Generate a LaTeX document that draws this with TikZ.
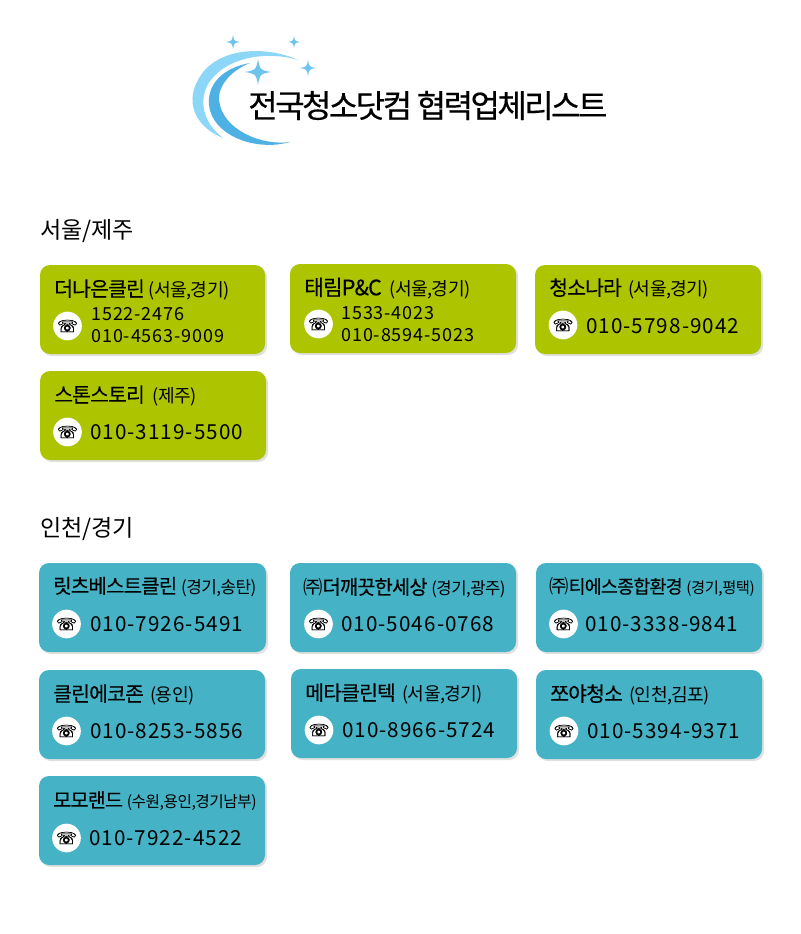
\documentclass[tikz,border=0pt]{standalone}
\usepackage{fontspec}
\setmainfont{Noto Sans CJK KR}
\newfontfamily\tightfont[LetterSpace=-4,FakeBold=0.25]{Noto Sans CJK KR}
\newfontfamily\subfont[LetterSpace=-3]{Noto Sans CJK KR}
\newfontfamily\titlefont[LetterSpace=-8,FakeBold=0.4]{Noto Sans CJK KR}
\newfontfamily\numfont[LetterSpace=5]{Noto Sans CJK KR}
\newfontfamily\iconfont[FakeBold=1.5]{DejaVu Sans}
\usetikzlibrary{positioning}
\definecolor{cardgreen}{HTML}{ACC500}
\definecolor{cardblue}{HTML}{45B2C5}
\definecolor{lightarc}{HTML}{8CD6F7}
\definecolor{darkarc}{HTML}{4FB0E3}
\definecolor{starblue}{HTML}{6CC4EE}
\tikzset{
  greencard/.style={fill=cardgreen,draw=none,rounded corners=7.5pt},
  bluecard/.style={fill=cardblue,draw=none,rounded corners=7.5pt},
  cardshadow/.style={fill=black!12,draw=none,rounded corners=7.5pt},
  phonedot/.style={circle,fill=white,inner sep=0pt,minimum size=21.5pt},
  phoneicon/.style={font=\iconfont\fontsize{12.5}{13}\selectfont,text=black,inner sep=0pt},
  cardname/.style={anchor=base west,inner sep=0pt,yshift=-1pt,font=\tightfont\fontsize{15.3}{17}\selectfont,text=black},
  phonenum/.style={anchor=west,inner sep=0pt,font=\numfont\fontsize{15.5}{17}\selectfont,text=black},
  phonesmall/.style={anchor=west,inner sep=0pt,align=left,font=\numfont\fontsize{13.5}{16.5}\selectfont,text=black},
  sectionlabel/.style={anchor=west,inner sep=0pt,font=\fontsize{17.3}{19}\selectfont,text=black},
}
\newcommand{\subarea}[2][13.6]{{\subfont\fontsize{#1}{15}\selectfont #2}}
\newcommand{\namesize}[1]{\fontsize{#1}{17}\selectfont}
\newcommand{\sparkle}[3]{\fill[starblue] (#1-#3,#2) .. controls (#1-0.15*#3,#2-0.15*#3) .. (#1,#2-#3) .. controls (#1+0.15*#3,#2-0.15*#3) .. (#1+#3,#2) .. controls (#1+0.15*#3,#2+0.15*#3) .. (#1,#2+#3) .. controls (#1-0.15*#3,#2+0.15*#3) .. cycle;}

\begin{document}
\begin{tikzpicture}[x=0.75pt,y=-0.75pt]
\useasboundingbox (0,0) rectangle (800,934);
\fill[white] (0,0) rectangle (800,934);

% logo
\fill[lightarc] (298,60) .. controls (265,45) and (215,47) .. (198,80) .. controls (184,105) and (198,128) .. (223,138) .. controls (206,125) and (198,105) .. (207,86) .. controls (222,58) and (265,50) .. cycle;
\fill[darkarc] (250,63) .. controls (222,68) and (207,85) .. (209,105) .. controls (212,135) and (255,152) .. (290,142) .. controls (262,146) and (222,130) .. (219,100) .. controls (218,85) and (232,70) .. cycle;
\sparkle{258}{72}{13}
\sparkle{233}{42}{7}
\sparkle{294}{42}{6}
\sparkle{308}{68}{8}
\node[anchor=west,inner sep=0pt,font=\titlefont\fontsize{24}{28}\selectfont,text=black] (title) at (248,105.5) {전국청소닷컴 협력업체리스트};

\node[sectionlabel] (seoul) at (40,231) {서울/제주};
\node[sectionlabel] (incheon) at (40,529) {인천/경기};

% green cards
\draw[cardshadow] (42,267) rectangle (267,356);
\draw[greencard] (40,265) rectangle (265,354);
\node[cardname] (name1) at (54,295) {더나은클린 \subarea{(서울,경기)}};
\node[phonedot] (dot1) at (67.5,326) {};
\node[phoneicon] (icon1) at (dot1) {☏};
\node[phonesmall] (num1) at (91,325) {1522-2476\\010-4563-9009};

\draw[cardshadow] (292,266) rectangle (518,355);
\draw[greencard] (290,264) rectangle (516,353);
\node[cardname] (name2) at (304,294) {{\namesize{16}태림P\&C} \hspace{3pt}\subarea{(서울,경기)}};
\node[phonedot] (dot2) at (318.5,324) {};
\node[phoneicon] (icon2) at (dot2) {☏};
\node[phonesmall] (num2) at (341,324) {1533-4023\\010-8594-5023};

\draw[cardshadow] (537,267) rectangle (763,356);
\draw[greencard] (535,265) rectangle (761,354);
\node[cardname] (name3) at (549,294) {청소나라 \hspace{2pt}\subarea{(서울,경기)}};
\node[phonedot] (dot3) at (563,325) {};
\node[phoneicon] (icon3) at (dot3) {☏};
\node[phonenum] (num3) at (586,326) {010-5798-9042};

\draw[cardshadow] (42,373) rectangle (268,462);
\draw[greencard] (40,371) rectangle (266,460);
\node[cardname] (name4) at (54,401) {스톤스토리 \hspace{3pt}\subarea{(제주)}};
\node[phonedot] (dot4) at (67.5,432) {};
\node[phoneicon] (icon4) at (dot4) {☏};
\node[phonenum] (num4) at (90,432) {010-3119-5500};

% blue cards
\draw[cardshadow] (41,565) rectangle (268,654);
\draw[bluecard] (39,563) rectangle (266,652);
\node[cardname] (name5) at (53,592) {{\namesize{15}릿츠베스트클린} \subarea[12.7]{(경기,송탄)}};
\node[phonedot] (dot5) at (66.5,624) {};
\node[phoneicon] (icon5) at (dot5) {☏};
\node[phonenum] (num5) at (90,624) {010-7926-5491};

\draw[cardshadow] (292,565) rectangle (518,654);
\draw[bluecard] (290,563) rectangle (516,652);
\node[cardname] (name6) at (303,593) {\subarea[14.5]{㈜}{\namesize{14.8}더깨끗한세상} \subarea[12.5]{(경기,광주)}};
\node[phonedot] (dot6) at (318.5,624) {};
\node[phoneicon] (icon6) at (dot6) {☏};
\node[phonenum] (num6) at (341,624) {010-5046-0768};

\draw[cardshadow] (538,565) rectangle (764,654);
\draw[bluecard] (536,563) rectangle (762,652);
\node[cardname] (name7) at (549,592) {\subarea[14.5]{㈜}{\namesize{13.8}티에스종합환경} \subarea[11.5]{(경기,평택)}};
\node[phonedot] (dot7) at (563.5,624) {};
\node[phoneicon] (icon7) at (dot7) {☏};
\node[phonenum] (num7) at (585,624) {010-3338-9841};

\draw[cardshadow] (41,672) rectangle (267,761);
\draw[bluecard] (39,670) rectangle (265,759);
\node[cardname] (name8) at (53,700) {클린에코존 \hspace{2pt}\subarea{(용인)}};
\node[phonedot] (dot8) at (66.5,731) {};
\node[phoneicon] (icon8) at (dot8) {☏};
\node[phonenum] (num8) at (90,731) {010-8253-5856};

\draw[cardshadow] (293,671) rectangle (519,760);
\draw[bluecard] (291,669) rectangle (517,758);
\node[cardname] (name9) at (305,699) {메타클린텍 \hspace{2pt}\subarea{(서울,경기)}};
\node[phonedot] (dot9) at (319,730) {};
\node[phoneicon] (icon9) at (dot9) {☏};
\node[phonenum] (num9) at (342,730) {010-8966-5724};

\draw[cardshadow] (538,672) rectangle (764,761);
\draw[bluecard] (536,670) rectangle (762,759);
\node[cardname] (name10) at (550,700) {쪼야청소 \hspace{2pt}\subarea{(인천,김포)}};
\node[phonedot] (dot10) at (564,731) {};
\node[phoneicon] (icon10) at (dot10) {☏};
\node[phonenum] (num10) at (587,731) {010-5394-9371};

\draw[cardshadow] (41,778) rectangle (267,867);
\draw[bluecard] (39,776) rectangle (265,865);
\node[cardname] (name11) at (53,806) {{\namesize{14.7}모모랜드} \subarea[11.8]{(수원,용인,경기남부)}};
\node[phonedot] (dot11) at (66.5,838) {};
\node[phoneicon] (icon11) at (dot11) {☏};
\node[phonenum] (num11) at (89,838) {010-7922-4522};
\end{tikzpicture}
\end{document}
